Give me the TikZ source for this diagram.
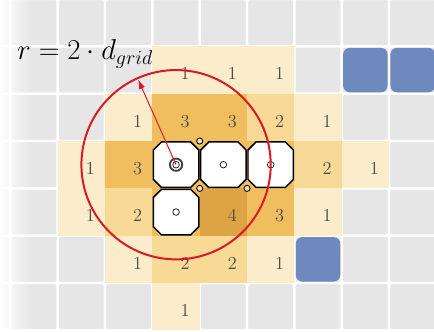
\documentclass[tikz,border=0pt]{standalone}
\usetikzlibrary{arrows.meta,fadings}
\definecolor{gridGray}{HTML}{E6E6E6}
\definecolor{heat1}{HTML}{FBEDCC}
\definecolor{heat2}{HTML}{F8D995}
\definecolor{heat3}{HTML}{F1BE5F}
\definecolor{heat4}{HTML}{DDA445}
\definecolor{obstBlue}{HTML}{6E89BD}
\definecolor{radiusRed}{HTML}{DA1A22}
\definecolor{jointFill}{HTML}{F3E3B8}
\definecolor{numGray}{HTML}{4A4A4A}
\tikzset{pics/robotbody/.style={code={
  \filldraw[draw=black,fill=white,line width=0.9pt]
    (-0.48,-0.31) -- (-0.48,0.31) -- (-0.31,0.48) -- (0.31,0.48) -- (0.48,0.31)
    -- (0.48,-0.31) -- (0.31,-0.48) -- (-0.31,-0.48) -- cycle;}}}
\begin{document}
\begin{tikzpicture}[x=1cm,y=1cm,every node/.style={font=\fontsize{11}{13}\selectfont}]
  \tikzstyle{cell}=[draw=white,line width=1.4pt,rounded corners=1.5pt]
  \tikzstyle{num}=[text=numGray,inner sep=0pt]
  \tikzstyle{joint}=[draw=black,fill=jointFill,line width=0.5pt]
  \useasboundingbox (-0.22,-0.02) rectangle (8.95,6.98);
  % grid of free cells
  \foreach \c in {-1,...,8}
    \foreach \r in {0,...,6}
      \filldraw[cell,fill=gridGray] (\c,6-\r) rectangle ++(1,1);
  % coverage counts
  \foreach \c/\r/\v in {3/1/1,4/1/1,5/1/1,
                        2/2/1,3/2/3,4/2/3,5/2/2,6/2/1,
                        1/3/1,2/3/3,6/3/2,7/3/1,
                        1/4/1,2/4/2,4/4/4,5/4/3,6/4/1,
                        2/5/1,3/5/2,4/5/2,5/5/1,
                        3/6/1} {
    \fill[heat\v] (\c,6-\r) rectangle ++(1,1);
    \node[num] (n-\c-\r) at (\c+0.69,6.42-\r) {\v};
  }
  \foreach \c/\r in {3/3,4/3,5/3,3/4}
    \fill[heat3] (\c,6-\r) rectangle ++(1,1);
  \fill[white,path fading=east] (-0.22,-0.02) rectangle (0.45,6.98);
  % obstacles
  \foreach \c/\r in {7/1,8/1,6/5}
    \fill[obstBlue,rounded corners=4pt] (\c+0.03,6.03-\r) rectangle ++(0.94,0.94);
  % robots
  \coordinate (rob1) at (3.5,3.5);
  \coordinate (rob2) at (4.5,3.5);
  \coordinate (rob3) at (5.5,3.5);
  \coordinate (rob4) at (3.5,2.5);
  \foreach \n in {rob1,rob2,rob3,rob4} {
    \pic at (\n) {robotbody};
    \draw[black,line width=0.4pt] (\n) circle (0.07);
  }
  \draw[black!75,line width=1.1pt] (rob1) circle (0.13);
  \foreach \p in {(4,4),(4,3),(5,3)}
    \filldraw[joint] \p circle (0.065);
  % sensing radius
  \draw[radiusRed,line width=1.2pt] (rob1) circle (2);
  \path (rob1) ++(114:1.97) coordinate (rtip);
  \draw[radiusRed,line width=0.6pt,-{Latex[length=2mm,width=1.3mm]}] (rob1) -- (rtip);
  \node[font=\fontsize{17}{20}\selectfont,inner sep=1pt] (rlabel) at (1.58,5.84) {$r = 2\cdot d_{grid}$};
\end{tikzpicture}
\end{document}
